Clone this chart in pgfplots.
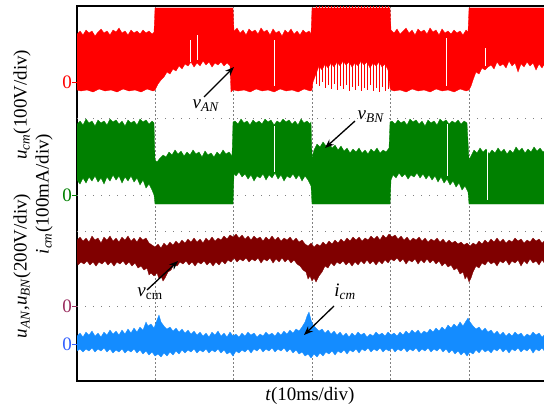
\documentclass[border=0pt]{standalone}
\usepackage{fontspec}
\setmainfont{Liberation Serif}
\usepackage{pgfplots}
\pgfplotsset{compat=1.18}
\usetikzlibrary{arrows.meta}
\definecolor{tred}{RGB}{255,0,0}
\definecolor{tgreen}{RGB}{0,128,0}
\definecolor{tmaroon}{RGB}{128,0,0}
\definecolor{tblue}{RGB}{20,140,255}
\definecolor{zpurple}{RGB}{155,45,95}
\definecolor{zblue}{RGB}{50,95,255}
\newcommand{\zero}[1]{\textcolor{#1}{0\rule[0.3em]{5bp}{1bp}}}
\newcommand{\ti}[1]{\textit{#1}}
\newcommand{\sub}[1]{\textsubscript{\textit{#1}}}

\begin{document}
\begin{tikzpicture}[x=1bp,y=1bp]
\begin{axis}[
  at={(77bp,35bp)}, anchor=south west,
  scale only axis, width=471bp, height=375bp,
  xmin=77, xmax=548, ymin=6, ymax=381, y dir=reverse,
  axis line style={line width=1.6bp},
  xtick={155,233,312,390,469}, xticklabels={},
  xmajorgrids,
  major grid style={gray, line width=0.7bp, dash pattern=on 2bp off 2bp},
  major tick length=0,
  ytick={82,195,306,344},
  yticklabels={\zero{tred},\zero{tgreen},\zero{zpurple},\zero{zblue}},
  yticklabel style={font=\fontsize{19bp}{22bp}\selectfont, inner xsep=0pt},
  ytick style={draw=none},
  extra y ticks={118,195,231,306},
  extra y tick labels={},
  extra y tick style={grid=major,
    major grid style={gray, line width=1bp, dash pattern=on 1bp off 7bp}},
]
% v_AN
\addplot[draw=tred, line width=0.3bp, fill=tred] coordinates {
(77,34)(80,31)(83,35)(86,30)(89,33)(92,31)(95,36)(98,32)(101,29)(104,33)(107,31)(110,35)(113,30)(116,32)(119,28)(122,33)(125,31)(128,35)(131,30)(134,33)(137,31)(140,34)(143,30)(146,33)(149,31)(152,34)(154,32)
(155,8)(233,8)
(234,31)(237,28)(240,33)(243,30)(246,35)(249,29)(252,32)(255,30)(258,34)(261,28)(264,32)(267,30)(270,35)(273,29)(276,33)(279,31)(282,36)(285,30)(288,33)(291,29)(294,34)(297,31)(300,35)(303,30)(306,33)(309,31)(311,34)
(312,8)(390,8)
(391,30)(394,33)(397,29)(400,34)(403,31)(406,28)(409,33)(412,30)(415,35)(418,29)(421,32)(424,30)(427,34)(430,28)(433,32)(436,30)(439,35)(442,29)(445,33)(448,31)(451,34)(454,30)(457,33)(460,31)(463,35)(466,30)(468,32)
(469,8)(548,8)
(548,66)(545,63)(542,68)(539,64)(536,70)(533,63)(530,66)(527,62)(524,67)(521,64)(518,72)(515,63)(512,66)(509,61)(506,68)(503,64)(500,66)(497,62)(494,69)(491,65)(488,67)(485,70)(482,68)(479,74)(476,72)(473,80)(471,86)(469,90)
(466,91)(460,89)(454,92)(448,90)(442,91)(436,89)(430,92)(424,90)(418,91)(412,89)(406,92)(400,90)(394,91)(391,90)
(390,88)(388,70)(385,64)(382,67)(379,62)(376,66)(373,63)(370,68)(367,62)(364,65)(361,61)(358,66)(355,63)(352,67)(349,62)(346,65)(343,61)(340,66)(337,62)(334,67)(331,63)(328,68)(325,64)(322,70)(319,66)(316,74)(313,82)(312,90)
(310,91)(304,89)(298,92)(292,90)(286,91)(280,89)(274,92)(268,90)(262,91)(256,89)(250,92)(244,90)(238,91)(234,90)
(233,90)(231,92)(230,66)(227,63)(224,66)(221,62)(218,65)(215,63)(212,67)(209,62)(206,65)(203,61)(200,66)(197,63)(194,67)(191,62)(188,66)(185,64)(182,69)(179,66)(176,71)(173,69)(170,74)(167,72)(164,77)(161,80)(158,84)(156,88)(155,90)
(153,91)(147,89)(141,92)(135,90)(129,91)(123,89)(117,92)(111,90)(105,91)(99,89)(93,92)(87,90)(81,91)(77,90)
};
\addplot[ycomb, draw=tred, line width=0.8bp] coordinates {
(316,84)(319,86)(322,82)(325,88)(328,85)(331,89)(334,84)(337,90)(340,86)(343,89)(346,85)(349,91)(352,87)(355,90)(358,86)(361,91)(364,88)(367,90)(370,85)(373,91)(376,88)(379,92)(382,87)(385,91)(388,89)
};
% v_BN
\addplot[draw=tgreen, line width=0.3bp, fill=tgreen] coordinates {
(77,124)(80,121)(83,125)(86,119)(89,123)(92,121)(95,126)(98,120)(101,123)(104,121)(107,125)(110,119)(113,122)(116,120)(119,124)(122,121)(125,126)(128,120)(131,123)(134,121)(137,125)(140,119)(143,122)(146,120)(149,124)(152,121)(154,123)
(155,160)(157,162)(160,158)(163,155)(166,157)(169,152)(172,155)(175,150)(178,154)(181,151)(184,156)(187,152)(190,155)(193,150)(196,154)(199,152)(202,157)(205,151)(208,155)(211,153)(214,157)(217,152)(220,155)(223,150)(226,154)(229,152)(232,156)
(233,122)(235,121)(238,124)(241,119)(244,123)(247,121)(250,125)(253,120)(256,123)(259,121)(262,124)(265,119)(268,122)(271,120)(274,125)(277,121)(280,123)(283,119)(286,122)(289,120)(292,124)(295,121)(298,125)(301,119)(304,123)(307,121)(310,124)(311,122)
(312,158)(314,150)(317,144)(320,147)(323,142)(326,146)(329,143)(332,148)(335,145)(338,150)(341,146)(344,151)(347,148)(350,153)(353,149)(356,152)(359,148)(362,153)(365,150)(368,154)(371,149)(374,152)(377,148)(380,153)(383,150)(386,152)(389,148)
(390,122)(392,121)(395,124)(398,120)(401,123)(404,121)(407,125)(410,119)(413,122)(416,120)(419,124)(422,121)(425,126)(428,120)(431,123)(434,121)(437,125)(440,119)(443,122)(446,120)(449,124)(452,121)(455,123)(458,120)(461,124)(464,121)(467,123)
(469,160)(471,156)(474,150)(477,153)(480,148)(483,152)(486,149)(489,154)(492,150)(495,153)(498,148)(501,152)(504,149)(507,154)(510,150)(513,153)(516,147)(519,151)(522,148)(525,153)(528,149)(531,152)(534,147)(537,151)(540,148)(543,152)(546,149)(548,151)
(548,204)(469,204)
(468,192)(465,186)(462,190)(459,183)(456,187)(453,181)(450,185)(447,179)(444,183)(441,177)(438,182)(435,176)(432,180)(429,175)(426,179)(423,174)(420,178)(417,173)(414,177)(411,175)(408,179)(405,174)(402,177)(399,173)(396,178)(393,175)(391,180)
(390,204)(312,204)
(311,186)(308,180)(305,176)(302,181)(299,175)(296,179)(293,174)(290,178)(287,176)(284,181)(281,175)(278,179)(275,173)(272,178)(269,175)(266,180)(263,174)(260,178)(257,176)(254,181)(251,175)(248,179)(245,174)(242,177)(239,172)(236,176)(234,174)
(233,204)(155,204)
(154,195)(152,190)(149,184)(146,188)(143,180)(140,185)(137,178)(134,182)(131,176)(128,181)(125,177)(122,183)(119,176)(116,180)(113,175)(110,181)(107,177)(104,184)(101,178)(98,182)(95,176)(92,181)(89,177)(86,183)(83,178)(80,184)(77,180)
};
% white gaps in the switching traces
\addplot[draw=white, line width=0.7bp, unbounded coords=jump] coordinates {
(197,35)(197,60) (197,nan)
(274,40)(274,86) (274,nan)
(446,38)(446,86) (446,nan)
(485,48)(485,66) (485,nan)
(447,124)(447,176) (447,nan)
(487,150)(487,200) (487,nan)
(274,126)(274,172) (274,nan)
(190,40)(190,62)
};
% v_cm
\addplot[draw=tmaroon, line width=0.3bp, fill=tmaroon] coordinates {
(77,240)(80,237)(83,241)(86,238)(89,242)(92,236)(95,240)(98,238)(101,243)(104,237)(107,240)(110,236)(113,241)(116,238)(119,242)(122,237)(125,240)(128,236)(131,241)(134,238)(137,242)(140,237)(143,240)(146,238)(149,243)(152,245)(155,247)(158,244)(161,248)(164,243)(167,246)(170,242)(173,245)(176,241)(179,244)(182,240)(185,243)(188,239)(191,242)(194,238)(197,242)(200,239)(203,243)(206,238)(209,241)(212,237)(215,241)(218,238)(221,240)(224,236)(227,239)(230,235)(233,237)(236,234)(239,238)(242,235)(245,239)(248,236)(251,240)(254,236)(257,239)(260,237)(263,241)(266,237)(269,240)(272,236)(275,240)(278,237)(281,241)(284,238)(287,240)(290,237)(293,241)(296,238)(299,242)(302,240)(305,244)(308,246)(311,243)(314,247)(317,244)(320,246)(323,242)(326,245)(329,241)(332,244)(335,240)(338,243)(341,239)(344,242)(347,238)(350,241)(353,237)(356,240)(359,237)(362,241)(365,238)(368,240)(371,236)(374,239)(377,236)(380,240)(383,235)(386,238)(389,234)(392,237)(395,235)(398,239)(401,236)(404,240)(407,237)(410,241)(413,238)(416,240)(419,237)(422,241)(425,238)(428,242)(431,239)(434,241)(437,238)(440,242)(443,239)(446,243)(449,240)(452,243)(455,241)(458,244)(461,242)(464,245)(467,243)(470,246)(473,243)(476,245)(479,241)(482,244)(485,240)(488,243)(491,239)(494,242)(497,238)(500,242)(503,239)(506,243)(509,240)(512,242)(515,238)(518,241)(521,239)(524,243)(527,240)(530,242)(533,238)(536,241)(539,239)(542,243)(545,240)(548,242)
(548,261)(545,264)(542,260)(539,265)(536,261)(533,263)(530,259)(527,264)(524,261)(521,266)(518,260)(515,263)(512,261)(509,265)(506,260)(503,263)(500,261)(497,266)(494,262)(491,264)(488,261)(485,265)(482,263)(479,268)(476,266)(473,272)(471,278)(469,282)(467,276)(465,279)(463,272)(460,274)(457,268)(454,270)(451,265)(448,267)(445,263)(442,266)(439,261)(436,264)(433,260)(430,263)(427,259)(424,263)(421,260)(418,264)(415,259)(412,262)(409,260)(406,264)(403,259)(400,262)(397,258)(394,261)(391,259)(388,263)(385,260)(382,264)(379,261)(376,265)(373,261)(370,264)(367,260)(364,264)(361,261)(358,265)(355,262)(352,266)(349,262)(346,265)(343,261)(340,264)(337,262)(334,266)(331,263)(328,268)(325,266)(322,272)(319,276)(316,282)(314,278)(312,281)(310,276)(308,279)(306,272)(303,270)(300,266)(297,264)(294,260)(291,263)(288,259)(285,262)(282,258)(279,262)(276,259)(273,263)(270,258)(267,261)(264,259)(261,263)(258,258)(255,261)(252,259)(249,262)(246,258)(243,261)(240,259)(237,262)(234,258)(231,262)(228,260)(225,264)(222,261)(219,265)(216,262)(213,266)(210,262)(207,265)(204,261)(201,264)(198,262)(195,266)(192,262)(189,265)(186,261)(183,264)(180,262)(177,266)(174,264)(171,270)(168,272)(165,278)(163,281)(161,276)(159,279)(157,273)(154,276)(151,273)(149,275)(147,268)(144,270)(141,266)(138,268)(135,263)(132,266)(129,262)(126,265)(123,261)(120,264)(117,262)(114,266)(111,262)(108,265)(105,261)(102,264)(99,262)(96,266)(93,262)(90,265)(87,261)(84,264)(81,262)(78,265)(77,262)
};
% i_cm
\addplot[draw=tblue, line width=0.3bp, fill=tblue] coordinates {
(77,336)(80,333)(83,337)(86,332)(89,335)(92,331)(95,336)(98,333)(101,337)(104,332)(107,335)(110,330)(113,334)(116,331)(119,335)(122,330)(125,334)(128,329)(131,333)(134,328)(137,332)(140,327)(143,330)(146,322)(148,326)(151,324)(154,328)(157,320)(159,315)(161,322)(164,326)(167,329)(170,327)(173,331)(176,328)(179,332)(182,329)(185,333)(188,330)(191,334)(194,331)(197,335)(200,332)(203,336)(206,333)(209,337)(212,332)(215,335)(218,331)(221,336)(224,333)(227,337)(230,332)(233,336)(236,334)(239,337)(242,333)(245,336)(248,332)(251,335)(254,333)(257,337)(260,334)(263,336)(266,332)(269,335)(272,333)(275,336)(278,332)(281,335)(284,331)(287,334)(290,330)(293,333)(296,329)(299,331)(302,327)(305,322)(307,316)(309,312)(311,320)(313,325)(316,328)(319,331)(322,329)(325,333)(328,330)(331,334)(334,331)(337,335)(340,332)(343,336)(346,333)(349,337)(352,333)(355,336)(358,332)(361,335)(364,333)(367,337)(370,334)(373,336)(376,332)(379,335)(382,333)(385,336)(388,332)(391,335)(394,333)(397,336)(400,332)(403,335)(406,331)(409,334)(412,330)(415,333)(418,330)(421,334)(424,331)(427,333)(430,329)(433,332)(436,328)(439,331)(442,327)(445,330)(448,325)(451,328)(454,324)(457,327)(460,322)(463,326)(466,321)(468,318)(470,322)(473,326)(476,329)(479,327)(482,331)(485,328)(488,332)(491,330)(494,334)(497,331)(500,335)(503,332)(506,336)(509,333)(512,336)(515,332)(518,335)(521,333)(524,337)(527,334)(530,336)(533,332)(536,335)(539,333)(542,337)(545,334)(548,336)
(548,349)(545,352)(542,348)(539,351)(536,349)(533,353)(530,348)(527,351)(524,349)(521,352)(518,348)(515,351)(512,349)(509,353)(506,349)(503,352)(500,348)(497,351)(494,349)(491,353)(488,350)(485,352)(482,349)(479,353)(476,350)(473,354)(470,352)(467,356)(464,352)(461,355)(458,351)(455,354)(452,350)(449,353)(446,349)(443,352)(440,348)(437,351)(434,349)(431,352)(428,348)(425,351)(422,349)(419,352)(416,348)(413,351)(410,349)(407,352)(404,348)(401,351)(398,349)(395,352)(392,348)(389,351)(386,349)(383,352)(380,348)(377,351)(374,349)(371,352)(368,348)(365,351)(362,349)(359,353)(356,349)(353,352)(350,350)(347,354)(344,350)(341,353)(338,351)(335,355)(332,351)(329,354)(326,352)(323,356)(320,353)(317,357)(314,354)(311,358)(308,354)(305,356)(302,352)(299,354)(296,350)(293,353)(290,349)(287,352)(284,348)(281,351)(278,349)(275,352)(272,348)(269,351)(266,349)(263,352)(260,348)(257,351)(254,349)(251,353)(248,349)(245,352)(242,350)(239,353)(236,351)(233,356)(230,352)(227,354)(224,350)(221,353)(218,349)(215,352)(212,350)(209,353)(206,349)(203,352)(200,350)(197,353)(194,349)(191,352)(188,350)(185,353)(182,350)(179,354)(176,351)(173,355)(170,352)(167,356)(164,353)(161,357)(158,354)(155,356)(152,352)(149,355)(146,351)(143,354)(140,350)(137,353)(134,349)(131,352)(128,350)(125,353)(122,349)(119,352)(116,350)(113,353)(110,349)(107,352)(104,348)(101,351)(98,349)(95,352)(92,348)(89,351)(86,349)(83,352)(80,349)(77,351)
};
% annotations
\begin{scope}[font=\fontsize{19bp}{22bp}\selectfont]
\draw[-{Stealth[length=9bp,width=7bp]}, line width=1.3bp] (axis cs:204,97) -- (axis cs:234,67);
\node at (axis cs:206,106) {\ti{v}\sub{AN}};
\draw[-{Stealth[length=9bp,width=7bp]}, line width=1.3bp] (axis cs:355,121) -- (axis cs:325,148);
\node at (axis cs:371,117) {\ti{v}\sub{BN}};
\draw[-{Stealth[length=9bp,width=7bp]}, line width=1.3bp] (axis cs:147,290) -- (axis cs:178,261);
\node at (axis cs:150,294) {\ti{v}\textsubscript{cm}};
\draw[-{Stealth[length=9bp,width=7bp]}, line width=1.3bp] (axis cs:334,306) -- (axis cs:304,335);
\node at (axis cs:345,292) {\ti{i}\sub{cm}};
\end{scope}
\end{axis}
\begin{scope}[font=\fontsize{19bp}{22bp}\selectfont]
\node at (310,20) {\ti{t}(10ms/div)};
\node[rotate=90, align=center] at (33,222) {\ti{u}\sub{AN},\ti{u}\sub{BN}(200V/div)\hspace{1.8em}\ti{u}\sub{cm}(100V/div)\\ \ti{i}\sub{cm}(100mA/div)};
\end{scope}
\pgfresetboundingbox
\useasboundingbox (0,0) rectangle (544,416);
\end{tikzpicture}
\end{document}
